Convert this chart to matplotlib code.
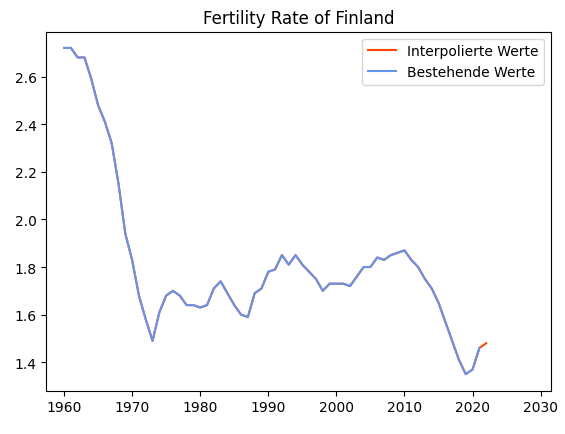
import numpy as np
import matplotlib.pyplot as plt

years = list(range(1960, 2023))
fertility = [2.72, 2.72, 2.68, 2.68, 2.59, 2.48, 2.41, 2.32, 2.15, 1.94,
             1.83, 1.68, 1.58, 1.49, 1.61, 1.68, 1.70, 1.68, 1.64, 1.64,
             1.63, 1.64, 1.71, 1.74, 1.69, 1.64, 1.60, 1.59, 1.69, 1.71,
             1.78, 1.79, 1.85, 1.81, 1.85, 1.81, 1.78, 1.75, 1.70, 1.73,
             1.73, 1.73, 1.72, 1.76, 1.80, 1.80, 1.84, 1.83, 1.85, 1.86,
             1.87, 1.83, 1.80, 1.75, 1.71, 1.65, 1.57, 1.49, 1.41, 1.35,
             1.37, 1.46, 1.48]
n_existing = 62  # last value (2022) is interpolated

fig, ax = plt.subplots(figsize=(5.65, 4.35), dpi=100)
ax.plot(years, fertility, color='orangered', label='Interpolierte Werte')
ax.plot(years[:n_existing], fertility[:n_existing], color='cornflowerblue', label='Bestehende Werte')
ax.set_xlim(1957.4, 2031.5)
ax.set_xticks(range(1960, 2031, 10))
ax.set_title('Fertility Rate of Finland')
ax.legend(loc='upper right')
fig.subplots_adjust(left=0.082, right=0.975, top=0.925, bottom=0.1)
fig.savefig('out.png')
